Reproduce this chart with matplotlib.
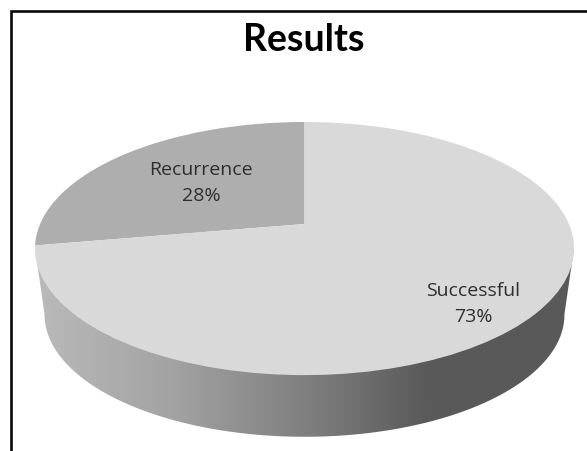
import numpy as np
import matplotlib
matplotlib.use("Agg")
import matplotlib.pyplot as plt
from matplotlib.patches import Polygon
from matplotlib.transforms import Transform
from matplotlib.colors import LinearSegmentedColormap

title = "Results"
categories = ["Recurrence", "Successful"]
values = [28, 73]
slice_colors = ["#aeaeae", "#d9d9d9"]
label_colors = "#2e2e2e"


class Tilt(Transform):
    """Perspective tilt of the unit pie circle into pixel coordinates."""
    input_dims = 2
    output_dims = 2
    is_separable = False
    has_inverse = False

    def __init__(self, cx, cy, a, b, k):
        super().__init__()
        self.p = (cx, cy, a, b, k)

    def transform_non_affine(self, values):
        cx, cy, a, b, k = self.p
        v = np.asarray(values, dtype=float)
        d = 1 + k * v[:, 1]
        return np.column_stack([cx + a * v[:, 0] / d, cy - b * v[:, 1] / d])


W, H = 587, 451
fig = plt.figure(figsize=(W / 100, H / 100), dpi=100, facecolor="white")
ax = fig.add_axes([0, 0, 1, 1])

wedges, _ = ax.pie(values, colors=slice_colors, startangle=90, counterclock=True,
                   wedgeprops=dict(linewidth=0))
ax.set_aspect("auto")
ax.set_xlim(0, W)
ax.set_ylim(H, 0)
ax.set_axis_off()

top = Tilt(304.5, 224, 264.4, 121.8, 0.194)
bottom = Tilt(304.5, 291, 255.0, 117.5, 0.194)
for w in wedges:
    w.set_transform(top + ax.transData)
    w.set_zorder(3)

# side wall of the pie
th = np.linspace(0, 2 * np.pi, 721)
circle = np.column_stack([np.cos(th), np.sin(th)])
tp = top.transform_non_affine(circle)
bp = bottom.transform_non_affine(circle)
i_l, i_r = np.argmin(bp[:, 0]), np.argmax(bp[:, 0])
lower = bp[i_l:i_r + 1]
wall_pts = np.vstack([tp[np.argmin(tp[:, 0])], lower, tp[np.argmax(tp[:, 0])]])
wall = Polygon(wall_pts, closed=True, facecolor="none", edgecolor="none",
               transform=ax.transData)
ax.add_patch(wall)
cmap = LinearSegmentedColormap.from_list(
    "wall", [(0, "#bababa"), (0.25, "#a3a3a3"), (0.5, "#808080"),
             (0.73, "#595959"), (1, "#595959")])
grad = np.linspace(0, 1, 512).reshape(1, -1)
im = ax.imshow(grad, cmap=cmap, extent=(35, 574, 450, 200), aspect="auto",
               zorder=2, interpolation="bilinear")
im.set_clip_path(wall)
ax.set_xlim(0, W)
ax.set_ylim(H, 0)

# chart frame
ax.plot([11, 11, W], [H, 11, 11], color="#0a0a0a", lw=1.9, zorder=5,
        solid_joinstyle="miter", clip_on=True)

ax.text(304, 40, title, ha="center", va="center", fontsize=27, fontweight="bold",
        family="Lato", color="black", zorder=6)
label_pos = [(201, 183), (473, 304)]
for cat, val, (x, y) in zip(categories, values, label_pos):
    ax.text(x, y, f"{cat}\n{val}%", ha="center", va="center", fontsize=14,
            family="Open Sans", color=label_colors, linespacing=1.58, zorder=6)

fig.savefig("out.png", dpi=100, facecolor="white")
